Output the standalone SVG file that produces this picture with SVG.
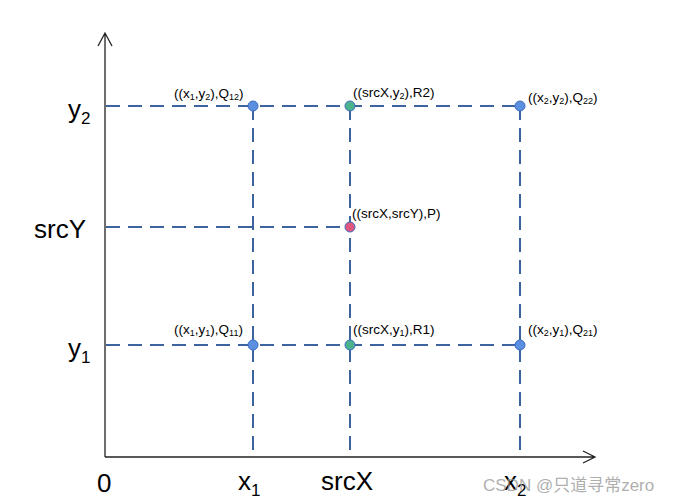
<svg xmlns="http://www.w3.org/2000/svg" width="683" height="502" viewBox="0 0 683 502">
<style>
.axis{stroke:#222;stroke-width:1.3;fill:none}
.dash{stroke:#3e64a0;stroke-width:2;stroke-dasharray:14 8;fill:none}
.big{font-family:"Liberation Sans",Arial,sans-serif;font-size:26px;fill:#000}
.sm{font-family:"Liberation Sans",Arial,sans-serif;font-size:13.5px;fill:#000}
.sub{font-size:9px}
.bsub{font-size:17px}
.blue{fill:#5b8fe0;stroke:#3d6cc0;stroke-width:1}
.green{fill:#4cb38d;stroke:#3d6cc0;stroke-width:1}
.pink{fill:#e0567f;stroke:#3d6cc0;stroke-width:1}
</style>
<rect width="683" height="502" fill="#fff"/>
<g id="connectors">
<path class="dash" d="M106 106H520"/>
<path class="dash" d="M106 227H350"/>
<path class="dash" d="M106 345H520"/>
<path class="dash" d="M253 106V457"/>
<path class="dash" d="M350 106V457"/>
<path class="dash" d="M520 106V457"/>
</g>
<g id="axes">
<path class="axis" d="M105 457V33M98 46L105 33L112 46"/>
<path class="axis" d="M105 457H595M583 451L595 457L583 463"/>
</g>
<g id="axis-labels">
<text class="big" x="68" y="118">y<tspan class="bsub" dy="6">2</tspan></text>
<text class="big" x="34" y="238">srcY</text>
<text class="big" x="68" y="357">y<tspan class="bsub" dy="6">1</tspan></text>
<text class="big" x="97" y="492">0</text>
<text class="big" x="238" y="490">x<tspan class="bsub" dy="6">1</tspan></text>
<text class="big" x="321" y="490" font-size="28">srcX</text>
<text class="big" x="504" y="490">x<tspan class="bsub" dy="6">2</tspan></text>
</g>
<g id="Q12"><circle class="blue" cx="253" cy="106" r="5"/><text class="sm" x="174" y="98">((x<tspan class="sub" dy="2">1</tspan><tspan dy="-2">,y</tspan><tspan class="sub" dy="2">2</tspan><tspan dy="-2">),Q</tspan><tspan class="sub" dy="2">12</tspan><tspan dy="-2">)</tspan></text></g>
<g id="R2"><circle class="green" cx="350" cy="106" r="5"/><text class="sm" x="353" y="97">((srcX,y<tspan class="sub" dy="2">2</tspan><tspan dy="-2">),R2)</tspan></text></g>
<g id="Q22"><circle class="blue" cx="520" cy="106" r="5"/><text class="sm" x="528" y="102">((x<tspan class="sub" dy="2">2</tspan><tspan dy="-2">,y</tspan><tspan class="sub" dy="2">2</tspan><tspan dy="-2">),Q</tspan><tspan class="sub" dy="2">22</tspan><tspan dy="-2">)</tspan></text></g>
<g id="P"><circle class="pink" cx="350" cy="227" r="5"/><text class="sm" x="352" y="218">((srcX,srcY),P)</text></g>
<g id="Q11"><circle class="blue" cx="253" cy="345" r="5"/><text class="sm" x="174" y="334">((x<tspan class="sub" dy="2">1</tspan><tspan dy="-2">,y</tspan><tspan class="sub" dy="2">1</tspan><tspan dy="-2">),Q</tspan><tspan class="sub" dy="2">11</tspan><tspan dy="-2">)</tspan></text></g>
<g id="R1"><circle class="green" cx="350" cy="345" r="5"/><text class="sm" x="353" y="334">((srcX,y<tspan class="sub" dy="2">1</tspan><tspan dy="-2">),R1)</tspan></text></g>
<g id="Q21"><circle class="blue" cx="520" cy="345" r="5"/><text class="sm" x="528" y="334">((x<tspan class="sub" dy="2">2</tspan><tspan dy="-2">,y</tspan><tspan class="sub" dy="2">1</tspan><tspan dy="-2">),Q</tspan><tspan class="sub" dy="2">21</tspan><tspan dy="-2">)</tspan></text></g>
<text x="483" y="491" font-family="'Liberation Sans','Noto Sans CJK SC',sans-serif" font-size="17" fill="#999" fill-opacity="0.8">CSDN @只道寻常zero</text>
</svg>
